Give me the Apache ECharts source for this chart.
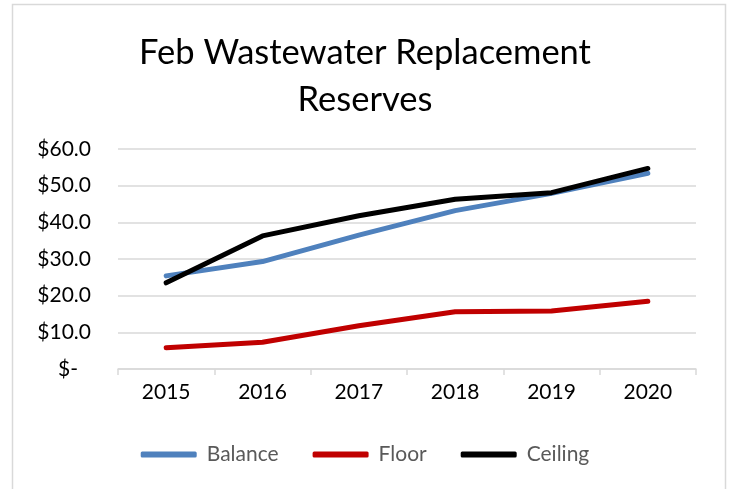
<!DOCTYPE html>
<html><head><meta charset="utf-8">
<script src="https://cdn.jsdelivr.net/npm/echarts@6/dist/echarts.min.js"></script>
<style>html,body{margin:0;padding:0;background:#fff}#c{width:730px;height:489px}</style>
</head><body><div id="c"></div>
<script>
const categories = ['2015','2016','2017','2018','2019','2020'];
const balance = [25.4, 29.3, 36.5, 43.2, 47.9, 53.4];
const floor = [5.8, 7.3, 11.8, 15.6, 15.8, 18.5];
const ceiling = [23.5, 36.3, 41.8, 46.3, 48.1, 54.7];
const yTicks = [0, 10, 20, 30, 40, 50, 60];

const FONT = 'Lato';
const chart = echarts.init(document.getElementById('c'), null, {renderer:'canvas'});
chart.setOption({
  animation: false,
  backgroundColor: '#fff',
  graphic: [{type:'rect', shape:{x:12.5, y:4.5, width:713, height:500}, style:{fill:'none', stroke:'#d9d9d9', lineWidth:1.5}, silent:true}],
  title: {
    text: 'Feb Wastewater Replacement\nReserves',
    left: 'center', top: 24,
    textStyle: {fontFamily: FONT, fontSize: 34.5, fontWeight: 'normal', color: '#000', lineHeight: 47}
  },
  legend: {
    bottom: 19, left: 'center', itemWidth: 56, itemHeight: 6, itemGap: 34,
    icon: 'roundRect',
    textStyle: {fontFamily: FONT, fontSize: 21, color: '#595959', padding: [0, 0, 0, 5]},
    data: ['Balance','Floor','Ceiling']
  },
  grid: {left: 118, right: 34, top: 149, bottom: 120, containLabel: false},
  xAxis: {
    type: 'category', data: categories, boundaryGap: true,
    axisLine: {lineStyle: {color: '#d9d9d9', width: 1.5}},
    axisTick: {show: true, length: 6, lineStyle: {color: '#d9d9d9', width: 1.5}},
    axisLabel: {fontFamily: FONT, fontSize: 21, color: '#000', margin: 13}
  },
  yAxis: {
    type: 'value', min: yTicks[0], max: yTicks[yTicks.length-1], interval: 10,
    axisLine: {show: false}, axisTick: {show: false},
    splitLine: {lineStyle: {color: '#d9d9d9', width: 1.5}},
    axisLabel: {fontFamily: FONT, fontSize: 21, color: '#000', margin: 27,
      formatter: v => v === 0 ? '{z|$-}' : '$' + v.toFixed(1),
      rich: {z: {fontFamily: FONT, fontSize: 21, color: '#000', padding: [0, 13, 0, 0]}}}
  },
  series: [
    {name:'Balance', type:'line', data: balance, symbol:'none', lineStyle:{width:5, color:'#4f81bd', cap:'round'}, itemStyle:{color:'#4f81bd'}, z:2},
    {name:'Floor', type:'line', data: floor, symbol:'none', lineStyle:{width:5, color:'#c00000', cap:'round'}, itemStyle:{color:'#c00000'}, z:2},
    {name:'Ceiling', type:'line', data: ceiling, symbol:'none', lineStyle:{width:5, color:'#000000', cap:'round'}, itemStyle:{color:'#000000'}, z:3}
  ]
});
</script></body></html>
